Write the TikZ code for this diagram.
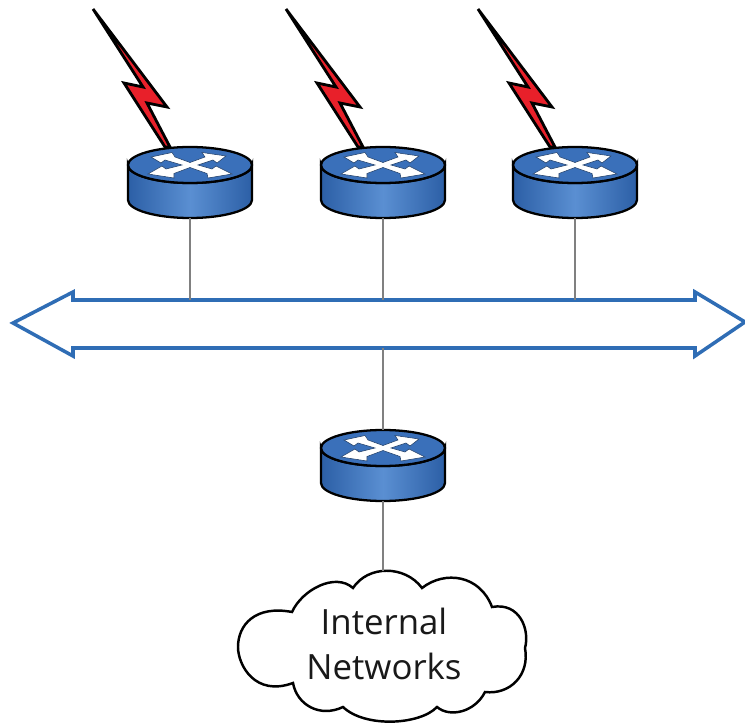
\documentclass[tikz,border=0pt]{standalone}
\usepackage{fontspec}
\setmainfont{Open Sans}
\definecolor{busblue}{HTML}{2F6DB5}
\definecolor{routerdark}{HTML}{2C5FA6}
\definecolor{routerlight}{HTML}{5A8FD2}
\definecolor{routertop}{HTML}{3A70BA}
\definecolor{wiregray}{HTML}{808080}
\definecolor{boltred}{HTML}{E8202A}
\tikzset{
  router/.pic = {
    \path[draw=black,line width=1.3pt,left color=routerdark,right color=routerdark,middle color=routerlight]
      (-62,0) -- (-62,35) arc [start angle=180,end angle=0,x radius=62,y radius=18] -- (62,0)
      arc [start angle=0,end angle=180,x radius=62,y radius=18] -- cycle;
    \draw[line width=1.3pt,fill=routertop] (0,0) ellipse [x radius=62,y radius=18];
    \draw[fill=white,draw=routerdark!60!black,line width=.3pt]
      (0,-2.5) -- (15,-8) -- (12,-12.5) -- (36,-9) -- (27,-2) -- (23,-5) -- (8,0) -- (22,4) -- (26,1) -- (42,9)
      -- (18,13) -- (17,8.5) -- (0,2.5) -- (-16,8.5) -- (-16,13) -- (-42,9) -- (-28,1) -- (-24,4) -- (-8,0)
      -- (-25,-5) -- (-29,-2) -- (-39,-8) -- (-18,-12.5) -- (-15,-8) -- cycle;
    \coordinate (-top) at (0,-18);
    \coordinate (-bot) at (0,53);
  },
  bolt/.pic = {
    \draw[line width=1.6pt,line join=miter,fill=boltred]
      (-97,-156) -- (-23,-58) -- (-43,-62) -- (-20,-18) -- (-25,-18) -- (-66,-82) -- (-47,-78) -- cycle;
  },
  wire/.style = {draw=wiregray,line width=.6pt},
  cloudtext/.style = {font=\fontsize{19.8}{25.6}\selectfont,align=center,text=black!90}
}
\begin{document}
\begin{tikzpicture}[x=0.02cm,y=-0.02cm]
        \useasboundingbox (0,0) rectangle (745,723);
        \pic (b1) at (190,165) {bolt};
        \pic (b2) at (383,165) {bolt};
        \pic (b3) at (575,165) {bolt};
        \pic (r1) at (190,165) {router};
        \pic (r2) at (383,165) {router};
        \pic (r3) at (575,165) {router};
        \pic (r4) at (383,448) {router};
        \draw[draw=busblue,line width=2pt,fill=white]
          (13,323) -- (73,292) -- (73,300) -- (695,300) -- (695,292) -- (745,322)
          -- (695,356) -- (695,348) -- (73,348) -- (73,356) -- cycle;
        \coordinate (bustop) at (383,300);
        \coordinate (busbot) at (383,348);
        \draw[line width=1.4pt,fill=white]
          (292,612) .. controls (302,590) and (335,572) .. (353,588)
          .. controls (368,565) and (405,565) .. (422,588)
          .. controls (445,570) and (480,575) .. (492,607)
          .. controls (520,602) and (530,630) .. (525,648)
          .. controls (530,675) and (510,695) .. (485,692)
          .. controls (475,712) and (450,718) .. (437,707)
          .. controls (420,725) and (365,728) .. (343,707)
          .. controls (320,718) and (297,705) .. (293,683)
          .. controls (255,697) and (238,665) .. (238,647)
          .. controls (238,625) and (255,605) .. (292,612) -- cycle;
        \node[cloudtext] (cloud) at (384,644) {Internal\\Networks};
        \coordinate (cloudtop) at (383,571);
        \draw[wire] (r1-bot) -- (r1-bot |- bustop);
        \draw[wire] (r2-bot) -- (bustop);
        \draw[wire] (r3-bot) -- (r3-bot |- bustop);
        \draw[wire] (busbot) -- (r4-top);
        \draw[wire] (r4-bot) -- (cloudtop);
        \end{tikzpicture}
\end{document}
